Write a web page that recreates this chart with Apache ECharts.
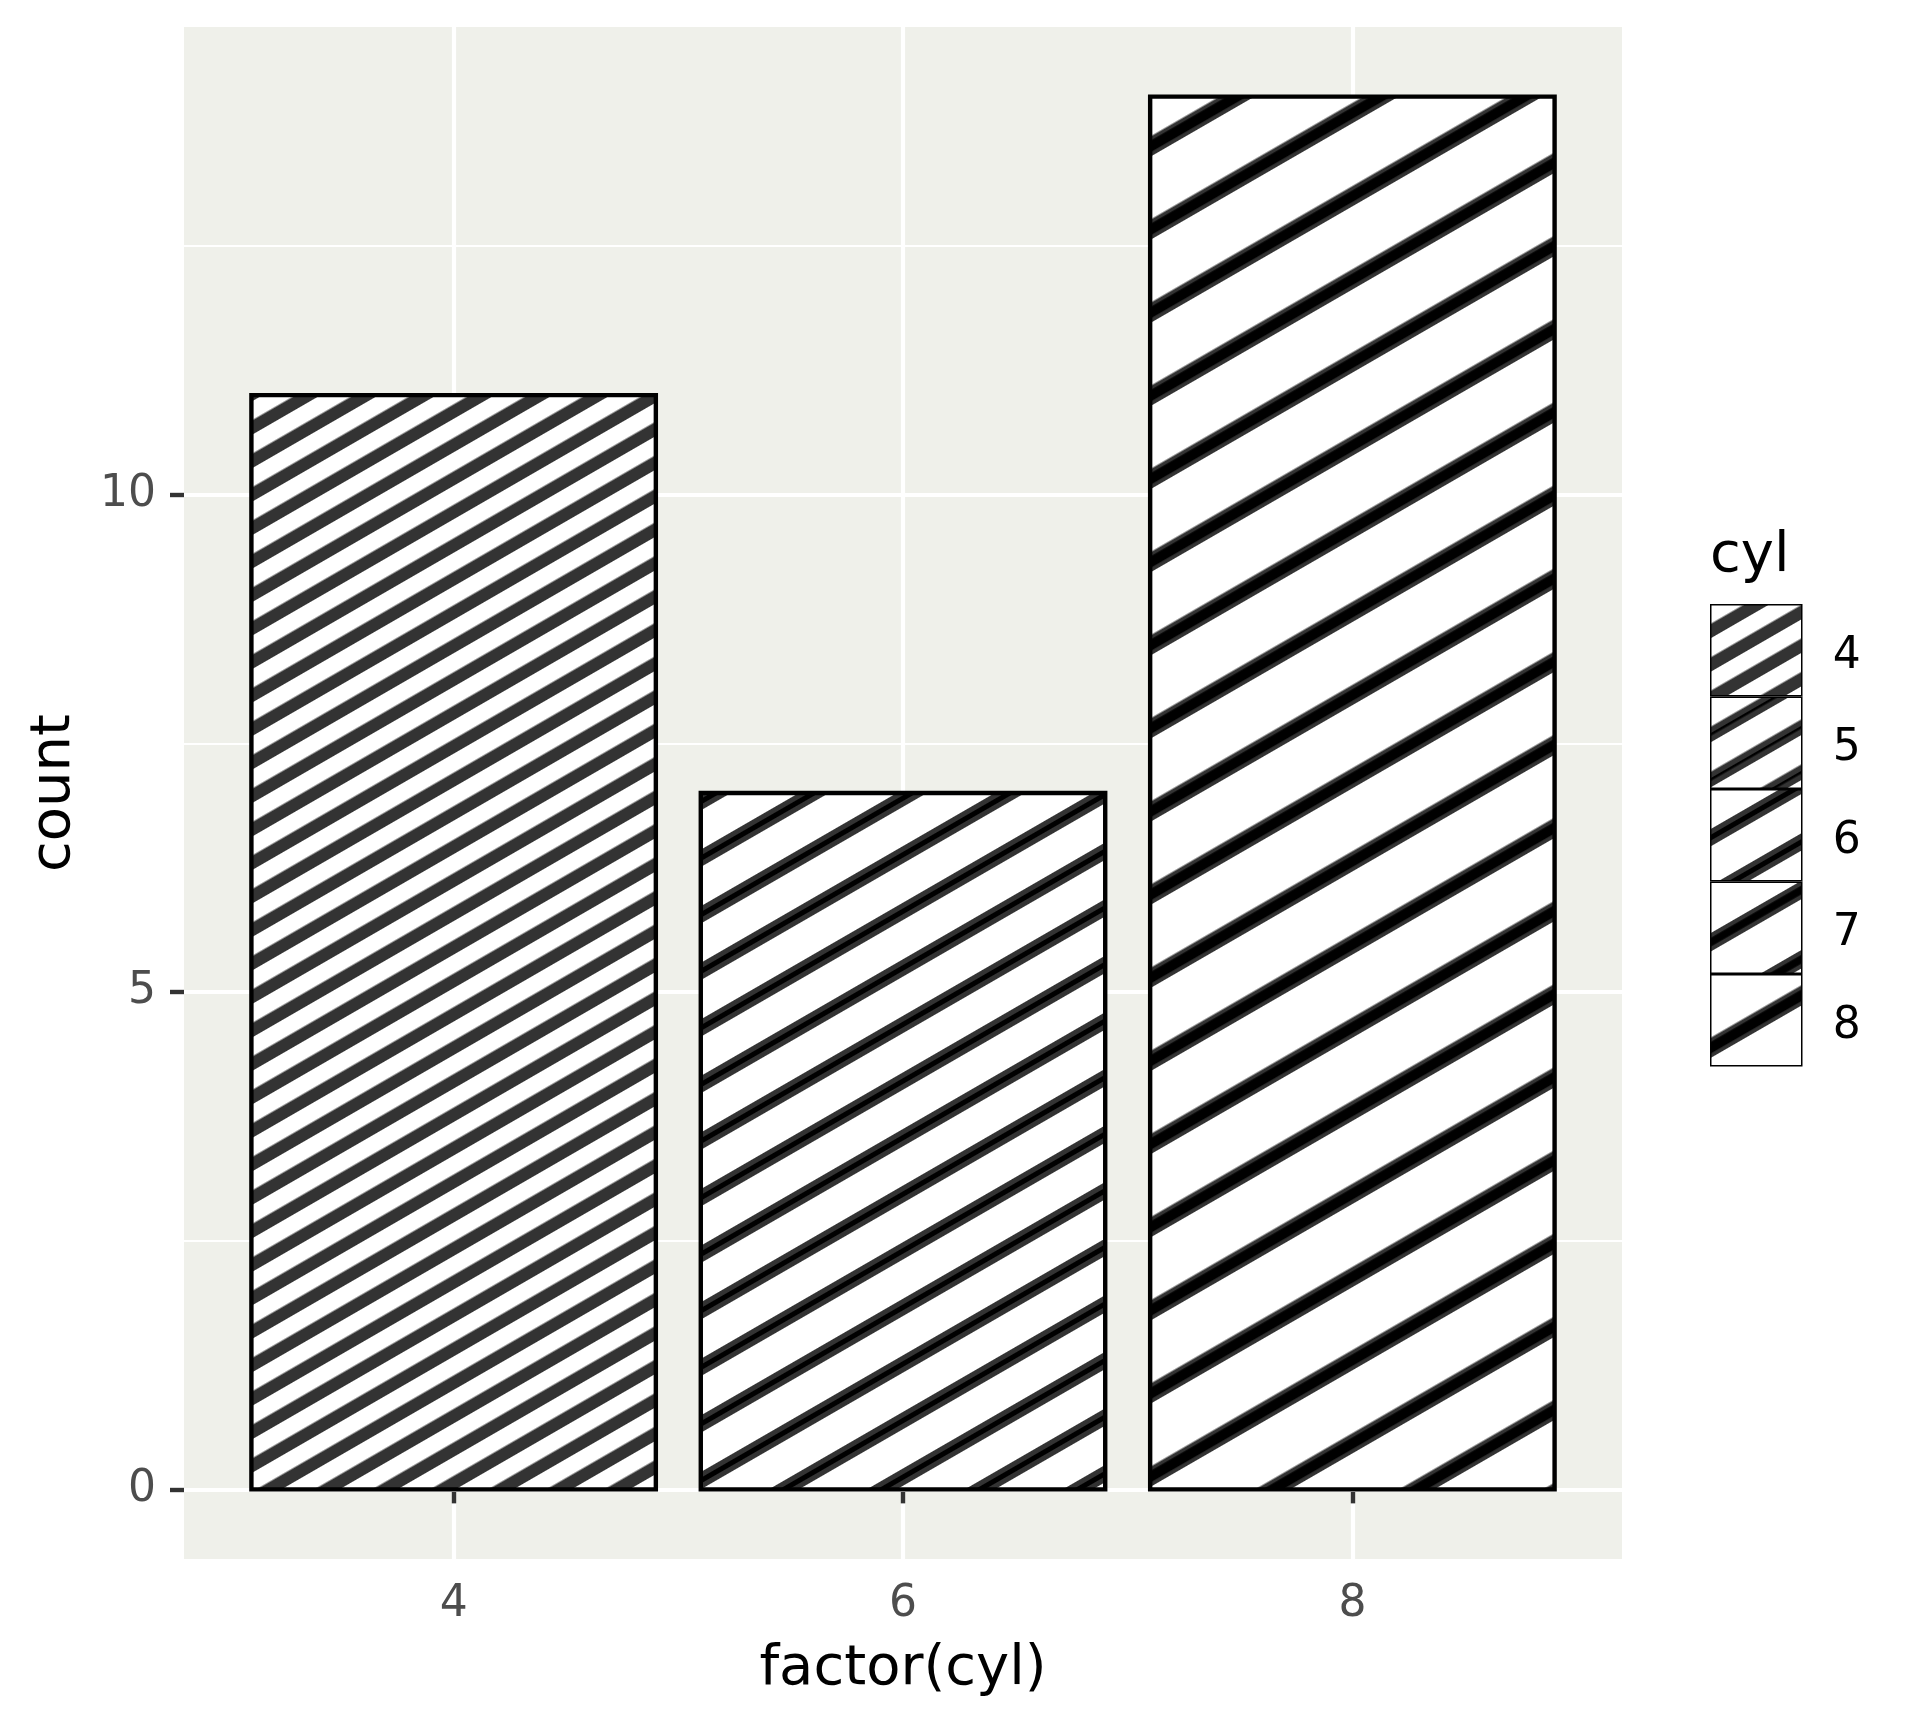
<!DOCTYPE html>
<html><head><meta charset="utf-8">
<script src="https://cdn.jsdelivr.net/npm/echarts@6/dist/echarts.min.js"></script>
<style>html,body{margin:0;padding:0;background:#fff}#c{width:1920px;height:1728px}</style>
</head><body><div id="c"></div>
<script>
// ---- data ----
const categories = ['4', '6', '8'];
const counts = [11, 7, 14];
const legendLevels = ['4', '5', '6', '7', '8'];
const yMajorTicks = [0, 5, 10];
const yMinorTicks = [2.5, 7.5, 12.5];
const xTickPositions = [1, 2, 3];

// ---- styles ----
const FONT = 'DejaVu Sans';
const ANG = -Math.PI / 6;
const BAR_WIDTH = 0.9;
const stripeStyle = {
  '4': { period: 29, thick: 12.5, core: 0, shift: 14 },
  '5': { period: 39, thick: 13.5, core: 2.5, shift: 0 },
  '6': { period: 49, thick: 15, core: 5, shift: 0 },
  '7': { period: 60, thick: 16, core: 7.5, shift: 0 },
  '8': { period: 72, thick: 17.5, core: 10, shift: 2 }
};

function tile(s) {
  const P = Math.round(s.period);
  const c = document.createElement('canvas');
  c.width = 4; c.height = P;
  const g = c.getContext('2d');
  g.fillStyle = '#fff'; g.fillRect(0, 0, 4, P);
  g.fillStyle = '#333'; g.fillRect(0, P - s.thick, 4, s.thick);
  if (s.core > 0) { g.fillStyle = '#000'; g.fillRect(0, P - s.thick / 2 - s.core / 2, 4, s.core); }
  return c;
}
const tiles = {}; Object.keys(stripeStyle).forEach(k => tiles[k] = tile(stripeStyle[k]));

function renderBar(params, api) {
  const x = api.value(0), y = api.value(1);
  const p0 = api.coord([x - BAR_WIDTH / 2, y]);
  const p1 = api.coord([x + BAR_WIDTH / 2, 0]);
  const s = stripeStyle[params.seriesName];
  const ax = p0[0] - 0.5 * s.shift, ay = p1[1] - 0.866 * s.shift;
  return {
    type: 'rect',
    shape: { x: p0[0], y: p0[1], width: p1[0] - p0[0], height: p1[1] - p0[1] },
    style: {
      fill: { image: tiles[params.seriesName], repeat: 'repeat', x: ax, y: ay, rotation: ANG },
      stroke: '#000', lineWidth: 4.4
    }
  };
}

const series = legendLevels.map(lv => {
  const ci = categories.indexOf(lv);
  return {
    name: lv,
    type: 'custom',
    renderItem: renderBar,
    itemStyle: { color: { image: tiles[lv], repeat: 'repeat', rotation: ANG } },
    data: ci >= 0 ? [[xTickPositions[ci], counts[ci]]] : [],
    silent: true
  };
});

const chart = echarts.init(document.getElementById('c'), null, { renderer: 'canvas' });
chart.setOption({
  animation: false,
  backgroundColor: '#fff',
  textStyle: { fontFamily: FONT },
  title: {
    text: 'cyl', left: 1710, top: 528, padding: 0,
    textStyle: { fontFamily: FONT, fontSize: 56, fontWeight: 'normal', color: '#000' }
  },
  legend: {
    orient: 'vertical', left: 1710, top: 604, padding: 0,
    itemWidth: 91, itemHeight: 91, itemGap: 0, icon: 'rect',
    itemStyle: { borderColor: '#000', borderWidth: 1.5 },
    formatter: '{a|{name}}',
    textStyle: {
      fontFamily: FONT, fontSize: 44, color: '#000',
      rich: { a: { fontFamily: FONT, fontSize: 44, color: '#000', padding: [12, 0, 0, 26] } }
    },
    data: legendLevels
  },
  grid: {
    left: 184, top: 27, width: 1438, height: 1532,
    show: true, backgroundColor: '#EFF0EA', borderWidth: 0
  },
  xAxis: {
    type: 'value', min: 0.4, max: 3.6,
    name: 'factor(cyl)', nameLocation: 'middle', nameGap: 82,
    nameTextStyle: { fontFamily: FONT, fontSize: 56, color: '#000' },
    axisLine: { show: false },
    axisTick: { show: true, length: 14, customValues: xTickPositions, lineStyle: { color: '#333', width: 4.4 } },
    axisLabel: { customValues: xTickPositions, margin: 24, fontFamily: FONT, fontSize: 44, color: '#4D4D4D',
      formatter: v => categories[Math.round(v) - 1] },
    splitLine: { show: true, customValues: xTickPositions, lineStyle: { color: '#fff', width: 4.2 } }
  },
  yAxis: [{
    type: 'value', min: -0.7, max: 14.7,
    name: 'count', nameLocation: 'middle', nameGap: 102, nameRotate: 90,
    nameTextStyle: { fontFamily: FONT, fontSize: 56, color: '#000' },
    axisLine: { show: false },
    axisTick: { show: true, length: 14, customValues: yMajorTicks, lineStyle: { color: '#333', width: 4.4 } },
    axisLabel: { customValues: yMajorTicks, margin: 28, fontFamily: FONT, fontSize: 44, color: '#4D4D4D' },
    splitLine: { show: true, customValues: yMajorTicks, lineStyle: { color: '#fff', width: 4.2 } },
    z: 1
  }, {
    type: 'value', min: -0.7, max: 14.7, position: 'left',
    axisLine: { show: false },
    axisTick: { show: false, customValues: yMinorTicks },
    axisLabel: { show: false, customValues: yMinorTicks },
    splitLine: { show: true, customValues: yMinorTicks, lineStyle: { color: '#fff', width: 2.1 } },
    z: 0
  }],
  series: series
});
</script></body></html>
